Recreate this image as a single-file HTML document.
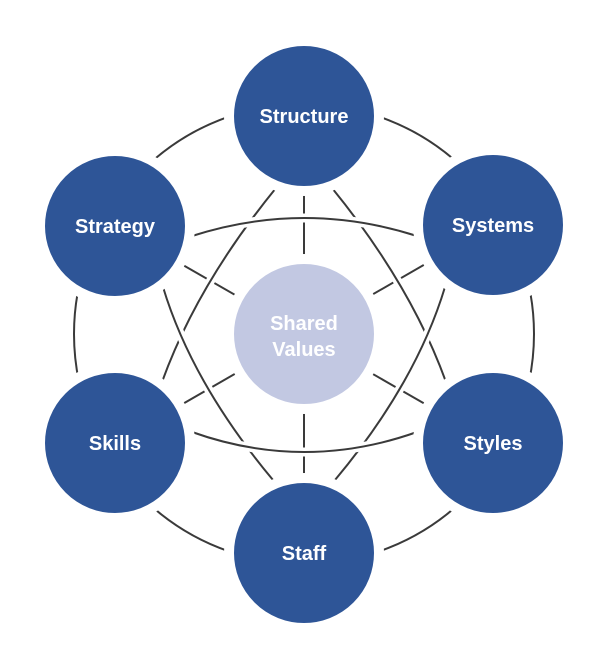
<!DOCTYPE html>
<html><head><style>
html,body{margin:0;padding:0;background:#fff;width:610px;height:662px;overflow:hidden}
text{font-family:"Liberation Sans",sans-serif;font-weight:bold;fill:#fff;font-size:20px;text-anchor:middle}
</style></head><body>
<svg width="610" height="662" viewBox="0 0 610 662">
<g fill="none" stroke-linecap="butt">
<circle cx="304" cy="334" r="230" stroke="#3a3a3a" stroke-width="2"/>
<g stroke="#3a3a3a" stroke-width="2">
<line x1="304" y1="188" x2="304" y2="480"/>
<line x1="115" y1="226" x2="493" y2="443"/>
<line x1="115" y1="443" x2="493" y2="225"/>
</g>
<g>
<path d="M276,188 Q197,285 162,382" stroke="#fff" stroke-width="9"/>
<path d="M276,188 Q197,285 162,382" stroke="#3a3a3a" stroke-width="2"/>
<path d="M332,188 Q411,285 446,382" stroke="#fff" stroke-width="9"/>
<path d="M332,188 Q411,285 446,382" stroke="#3a3a3a" stroke-width="2"/>
<path d="M192,236 Q304,200 417,236" stroke="#fff" stroke-width="9"/>
<path d="M192,236 Q304,200 417,236" stroke="#3a3a3a" stroke-width="2"/>
<path d="M163,287 Q192,383 273,480" stroke="#fff" stroke-width="9"/>
<path d="M163,287 Q192,383 273,480" stroke="#3a3a3a" stroke-width="2"/>
<path d="M445,287 Q416,383 335,480" stroke="#fff" stroke-width="9"/>
<path d="M445,287 Q416,383 335,480" stroke="#3a3a3a" stroke-width="2"/>
<path d="M192,432 Q304,472 417,432" stroke="#fff" stroke-width="9"/>
<path d="M192,432 Q304,472 417,432" stroke="#3a3a3a" stroke-width="2"/>
</g>
</g>
<g stroke="#fff" stroke-width="10">
<circle cx="304" cy="334" r="75" fill="#c2c8e2"/>
<circle cx="304" cy="116" r="75" fill="#2e5597"/>
<circle cx="493" cy="225" r="75" fill="#2e5597"/>
<circle cx="493" cy="443" r="75" fill="#2e5597"/>
<circle cx="304" cy="553" r="75" fill="#2e5597"/>
<circle cx="115" cy="443" r="75" fill="#2e5597"/>
<circle cx="115" cy="226" r="75" fill="#2e5597"/>
</g>
<text x="304" y="330">Shared</text>
<text x="304" y="356">Values</text>
<text x="304" y="123">Structure</text>
<text x="493" y="232">Systems</text>
<text x="493" y="450">Styles</text>
<text x="304" y="560">Staff</text>
<text x="115" y="450">Skills</text>
<text x="115" y="233">Strategy</text>
</svg>
</body></html>
